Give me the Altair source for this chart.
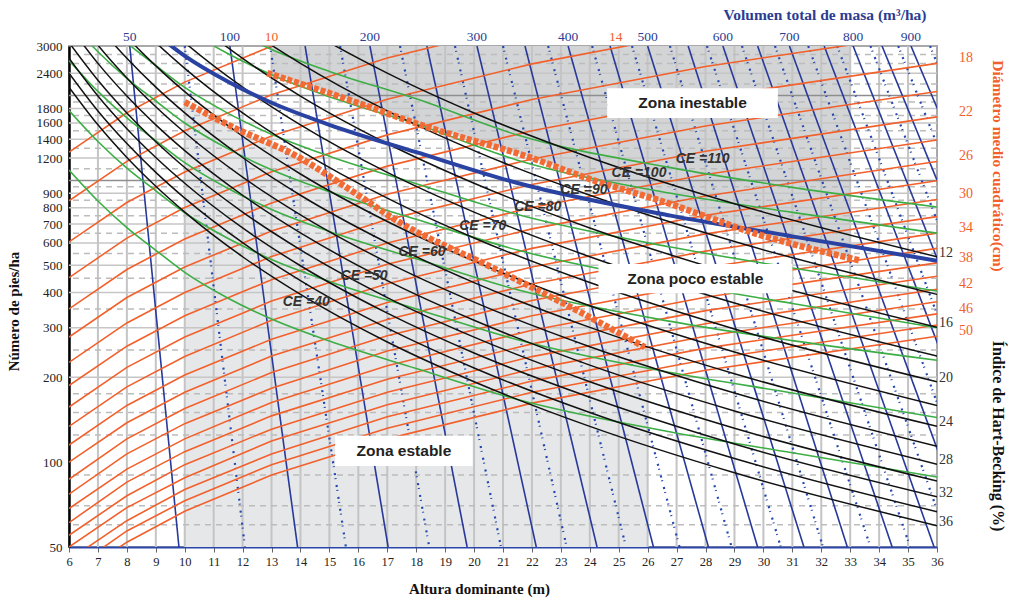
import altair as alt
import pandas as pd

# ---------------- data ----------------
# Blue solid volume isolines: H0 where each line meets N=3000 (top) and N=50 (bottom)
VOL_LABELS = [50, 100, 150, 200, 250, 300, 350, 400, 450, 500, 550, 600, 650, 700, 750, 800, 850, 900]
VOL_TOP_H = [8.1, 11.56, 14.16, 16.4, 18.37, 20.1, 21.76, 23.25, 24.7, 26.0, 27.4, 28.6, 29.8, 30.9, 32.1, 33.1, 34.1, 35.1]
VOL_BOT_H = [9.8, 13.9, 17.03, 19.76, 22.15, 24.25, 26.2, 28.1, 29.8, 31.4, 32.9, 34.45, 35.9, 37.25, 38.7, 39.95, 41.2, 42.4]
VOL_SHOWN = [50, 100, 200, 300, 400, 500, 600, 700, 800, 900]

# Blue dotted intermediate lines
DOT_TOP_H = [10.0, 12.95, 15.37, 17.44, 19.34, 21.0, 22.56, 24.08, 25.46, 26.77, 28.05, 29.26, 30.4, 31.55, 32.55, 33.7, 34.66, 35.76]
DOT_BOT_H = [12.08, 15.57, 18.45, 20.93, 23.2, 25.25, 27.1, 28.9, 30.6, 32.06, 33.7, 35.07, 36.45, 37.8, 39.0, 40.3, 41.5, 42.8]

# Orange quadratic mean diameter lines (cm)
DG_LABELS = [10, 12, 14, 16, 18, 20, 22, 24, 26, 28, 30, 32, 34, 36, 38, 40, 42, 44, 46, 48, 50]
DG_H = [6, 8, 10, 13, 17, 22, 28, 36]
DG_N = [
    [1260, 1739, 2233, 2995, 4046, 5399, 7074, 9374],
    [847, 1169, 1501, 2013, 2720, 3629, 4755, 6302],
    [605, 835, 1072, 1438, 1943, 2592, 3396, 4501],
    [452, 624, 801, 1074, 1451, 1937, 2538, 3363],
    [350, 483, 620, 832, 1124, 1500, 1965, 2604],
    [278, 384, 493, 661, 893, 1191, 1561, 2068],
    [226, 312, 400, 537, 726, 968, 1269, 1681],
    [187, 258, 331, 444, 600, 801, 1050, 1391],
    [157, 217, 278, 373, 504, 673, 881, 1168],
    [134, 185, 237, 319, 430, 574, 752, 997],
    [115, 159, 204, 273, 369, 493, 646, 856],
    [100, 138, 177, 238, 321, 429, 561, 744],
    [87, 121, 155, 208, 281, 375, 491, 650],
    [77, 107, 137, 183, 248, 331, 433, 574],
    [68.5, 94.5, 121, 163, 220, 294, 385, 510],
    [61, 85, 109, 146, 197, 263, 345, 457],
    [55, 76, 98, 131, 177, 237, 310, 411],
    [50, 69, 88, 119, 160, 214, 280, 371],
    [45, 62, 80, 107, 145, 194, 254, 336],
    [41, 57, 73, 98, 132, 177, 231, 307],
    [38, 52, 67, 90, 121, 162, 212, 280],
]
DG_RIGHT_SHOWN = [18, 22, 26, 30, 34, 38, 42, 46, 50]
DG_TOP_LABELS = ["10", "14"]
DG_TOP_H = [13.0, 24.9]

# Black Hart-Becking index lines (%)
HB_LABELS = [12, 14, 16, 18, 20, 22, 24, 26, 28, 30, 32, 34, 36]
HB_H = [6, 7, 8, 9, 10, 12, 14, 17, 20, 24, 29, 36]
HB_N = [
    [19290, 14172, 10851, 8573, 6944, 4823, 3543, 2403, 1736, 1206, 826, 536],
    [14172, 10412, 7972, 6299, 5102, 3543, 2603, 1765, 1276, 886, 607, 394],
    [10851, 7972, 6104, 4823, 3906, 2713, 1993, 1352, 977, 678, 464, 301],
    [8573, 6299, 4823, 3810, 3086, 2143, 1575, 1068, 772, 536, 367, 238],
    [6944, 5102, 3906, 3086, 2500, 1736, 1276, 865, 625, 434, 297, 193],
    [5739, 4217, 3228, 2551, 2066, 1435, 1054, 715, 517, 359, 246, 159],
    [4823, 3543, 2713, 2143, 1736, 1206, 886, 601, 434, 301, 206, 134],
    [4109, 3019, 2311, 1826, 1479, 1027, 755, 512, 370, 257, 176, 114],
    [3543, 2603, 1993, 1575, 1276, 886, 651, 441, 319, 221, 152, 98.4],
    [3086, 2268, 1736, 1372, 1111, 772, 567, 384, 278, 193, 132, 85.7],
    [2713, 1993, 1526, 1206, 977, 678, 498, 338, 244, 170, 116, 75.4],
    [2403, 1765, 1352, 1068, 865, 601, 441, 299, 216, 150, 103, 66.7],
    [2143, 1575, 1206, 953, 772, 536, 394, 267, 193, 134, 91.7, 59.5],
]
HB_SHOWN = [12, 16, 20, 24, 28, 32, 36]

# Green slenderness (CE) lines
CE_GREEN = [40, 50, 60, 70, 80, 100, 110]
CE_H = [6, 7, 8, 9, 10, 11.5, 13, 15, 18, 21.5, 26.8, 31, 36]
CE_N = [
    [1088, 845, 680, 565, 472, 382, 322, 269, 215, 167, 128, 108, 88.6],
    [1770, 1375, 1106, 919, 768, 622, 524, 438, 350, 272, 208, 176, 144],
    [2666, 2070, 1666, 1384, 1156, 936, 789, 659, 527, 409, 316, 270, 230],
    [3686, 2863, 2304, 1914, 1599, 1294, 1091, 911, 728, 566, 434, 366, 300],
    [4929, 3828, 3080, 2559, 2138, 1730, 1459, 1219, 974, 757, 580, 489, 405],
    [8019, 6228, 5012, 4164, 3479, 2815, 2373, 1983, 1585, 1180, 900, 770, 650],
    [9857, 7656, 6161, 5119, 4276, 3461, 2917, 2437, 1948, 1450, 1110, 945, 805],
]

# Thick blue line (CE = 90)
TB_H = [9, 10, 11.5, 13, 15, 18, 21.5, 26.8, 31, 36]
TB_N = [3317, 2766, 2239, 1887, 1576, 1260, 979, 750, 633, 519]

# Thick dashed orange zone limits
UP_H = [12.85, 15.0, 18.5, 21.9, 24.1, 26.4, 29.9, 33.3]
UP_N = [2405, 2040, 1533, 1210, 1003, 850, 640, 521]
LOW_H = [10.0, 11.75, 13.8, 15.9, 17.3, 20.8, 23.5, 25.9]
LOW_N = [1896, 1530, 1230, 900, 723, 481, 348, 256]

# Shaded zones
DARK_H = [13, 15, 18.5, 21.9, 24.1, 26.4, 29.9, 33]
DARK_N = [2380, 2040, 1533, 1210, 1003, 850, 640, 525]
LIGHT_H = [10, 11.75, 13.8, 15.9, 17.3, 20.8, 23.5, 26]
LIGHT_N = [1896, 1530, 1230, 900, 723, 481, 348, 250]

# Zone label boxes
ZONE_TEXT = ["Zona inestable", "Zona poco estable", "Zona estable"]
ZONE_H1 = [24.6, 24.3, 15.2]
ZONE_H2 = [30.5, 31.0, 19.95]
ZONE_N1 = [1665, 398, 97]
ZONE_N2 = [2125, 505, 124]

# CE labels
CE_LAB_TEXT = ["CE =40", "CE =50", "CE =60", "CE =70", "CE =80", "CE =90", "CE =100", "CE =110"]
CE_LAB_H = [14.2, 16.2, 18.2, 20.3, 22.2, 23.8, 25.7, 27.9]
CE_LAB_N = [370, 458, 556, 688, 805, 925, 1061, 1188]

# Axes / grid
X_TICKS = list(range(6, 37))
Y_TICKS = [50, 100, 200, 300, 400, 500, 600, 700, 800, 900, 1000, 1200, 1400, 1600, 1800, 2000, 2400, 3000]
GRID_V = list(range(7, 36))
GRID_SOLID = [200, 300, 400, 500, 600, 700, 800, 900, 1200, 1400, 1600, 1800, 2400]
GRID_DARK = [1000, 2000]
GRID_DASH = [60, 70, 90, 125, 150, 175, 250, 350, 450, 550, 650, 750, 850, 950, 1100, 1300, 1500, 1700, 1900, 2200, 2600, 2800]

# ---------------- styling ----------------
SERIF = "Liberation Serif"
SANS = "Liberation Sans"
ORANGE = "#f2602b"
GREEN = "#3cae45"
NAVY = "#27399a"
BLACK = "#111111"

XS = alt.Scale(domain=[6, 36], nice=False, zero=False)
YS = alt.Scale(type="log", domain=[50, 3000], nice=False)

X_AXIS = alt.Axis(values=X_TICKS, format="d", title="Altura dominante (m)", grid=False,
                  labelFont=SERIF, labelFontSize=12.5, labelColor="#222", labelPadding=3,
                  tickSize=5, tickColor="#666", domainColor="#2b46a8", domainWidth=2,
                  titleFont=SERIF, titleFontSize=15, titleFontWeight="bold", titleColor="#111",
                  titleX=410, titleY=46, titleBaseline="alphabetic", labelFlush=False)
Y_AXIS = alt.Axis(values=Y_TICKS, format="d", title="Número de pies/ha", grid=False,
                  labelFont=SERIF, labelFontSize=13, labelColor="#222", labelPadding=7,
                  ticks=False, domainColor="#000", domainWidth=2.5,
                  titleFont=SERIF, titleFontSize=15, titleFontWeight="bold", titleColor="#111",
                  titleX=-48, titleY=265, titleAngle=270, titleAlign="center", titleBaseline="bottom",
                  labelFlush=False)


def X(field="H"):
    return alt.X(f"{field}:Q", scale=XS, axis=X_AXIS)


def Y(field="N"):
    return alt.Y(f"{field}:Q", scale=YS, axis=Y_AXIS)


def curves(labels, hs, rows, prefix):
    recs = []
    for lab, row in zip(labels, rows):
        for h, n in zip(hs, row):
            recs.append({"H": h, "N": n, "id": f"{prefix}{lab}"})
    return pd.DataFrame(recs)


def straight(labels, top, bot, prefix):
    recs = []
    for lab, t, b in zip(labels, top, bot):
        recs.append({"H": t, "N": 3000, "id": f"{prefix}{lab}"})
        recs.append({"H": b, "N": 50, "id": f"{prefix}{lab}"})
    return pd.DataFrame(recs)


def line_layer(df, color, width, dash=None, interp="linear"):
    kw = dict(color=color, strokeWidth=width, clip=True, interpolate=interp)
    if dash:
        kw["strokeDash"] = dash
    return alt.Chart(df).mark_line(**kw).encode(x=X(), y=Y(), detail="id:N")


layers = []

# shaded zones
dark_df = pd.DataFrame({"H": DARK_H, "N": DARK_N, "N2": [3000] * len(DARK_H)})
light_df = pd.DataFrame({"H": LIGHT_H, "N": LIGHT_N, "N2": [50] * len(LIGHT_H)})
layers.append(alt.Chart(dark_df).mark_area(color="#d3d4d6", clip=True, orient="vertical")
              .encode(x=X(), y=Y(), y2="N2:Q"))
layers.append(alt.Chart(light_df).mark_area(color="#e6e7e9", clip=True, orient="vertical")
              .encode(x=X(), y=Y(), y2="N2:Q"))

# grid
layers.append(alt.Chart(pd.DataFrame({"H": GRID_V})).mark_rule(color="#c4c4c4", strokeWidth=2)
              .encode(x=X()))
layers.append(alt.Chart(pd.DataFrame({"N": GRID_DASH})).mark_rule(color="#bcbcbc", strokeWidth=1.5, strokeDash=[6, 5])
              .encode(y=Y()))
layers.append(alt.Chart(pd.DataFrame({"N": GRID_SOLID})).mark_rule(color="#c6c6c6", strokeWidth=1.5)
              .encode(y=Y()))
layers.append(alt.Chart(pd.DataFrame({"N": GRID_DARK})).mark_rule(color="#8e8e8e", strokeWidth=1.5)
              .encode(y=Y()))

# line families
layers.append(line_layer(straight(DOT_TOP_H, DOT_TOP_H, DOT_BOT_H, "d"), "#2347b0", 2.2, dash=[2, 3, 1, 6]))
layers.append(line_layer(straight(VOL_LABELS, VOL_TOP_H, VOL_BOT_H, "v"), NAVY, 1.6))
layers.append(line_layer(curves(DG_LABELS, DG_H, DG_N, "dg"), ORANGE, 1.6))
layers.append(line_layer(curves(CE_GREEN, CE_H, CE_N, "ce"), GREEN, 1.6, interp="monotone"))
layers.append(line_layer(curves(HB_LABELS, HB_H, HB_N, "hb"), BLACK, 1.5, interp="monotone"))
layers.append(line_layer(pd.DataFrame({"H": TB_H, "N": TB_N, "id": "ce90"}), "#2a42a2", 4, interp="monotone"))
layers.append(line_layer(pd.DataFrame({"H": UP_H, "N": UP_N, "id": "up"}), "#f36b34", 6.5, dash=[5, 2], interp="monotone"))
layers.append(line_layer(pd.DataFrame({"H": LOW_H, "N": LOW_N, "id": "low"}), "#f36b34", 6.5, dash=[5, 2], interp="monotone"))

# zone boxes and texts
zone_df = pd.DataFrame({"H1": ZONE_H1, "H2": ZONE_H2, "N1": ZONE_N1, "N2": ZONE_N2, "t": ZONE_TEXT})
zone_df["Hc"] = (zone_df["H1"] + zone_df["H2"]) / 2
zone_df["Nc"] = (zone_df["N1"] * zone_df["N2"]) ** 0.5
layers.append(alt.Chart(zone_df).mark_rect(color="white")
              .encode(x=X("H1"), x2="H2:Q", y=Y("N1"), y2="N2:Q"))
layers.append(alt.Chart(zone_df).mark_text(font=SANS, fontSize=15.5, fontWeight="bold", color="#222",
                                           align="center", baseline="middle")
              .encode(x=X("Hc"), y=Y("Nc"), text="t:N"))

# CE labels
ce_df = pd.DataFrame({"H": CE_LAB_H, "N": CE_LAB_N, "t": CE_LAB_TEXT})
layers.append(alt.Chart(ce_df).mark_text(font=SANS, fontSize=14, fontWeight="bold", fontStyle="italic",
                                         color="#333", align="center", baseline="middle")
              .encode(x=X(), y=Y(), text="t:N"))

# top labels: volume (blue) and diameter (orange)
vol_df = pd.DataFrame({"H": [VOL_TOP_H[VOL_LABELS.index(v)] for v in VOL_SHOWN],
                       "t": [str(v) for v in VOL_SHOWN]})
layers.append(alt.Chart(vol_df).mark_text(font=SERIF, fontSize=13.5, color="#2b3d91", baseline="middle")
              .encode(x=X(), y=alt.value(-9), text="t:N"))
dgt_df = pd.DataFrame({"H": DG_TOP_H, "t": DG_TOP_LABELS})
layers.append(alt.Chart(dgt_df).mark_text(font=SERIF, fontSize=13.5, color=ORANGE, baseline="middle")
              .encode(x=X(), y=alt.value(-9), text="t:N"))

# right labels: diameter (orange) and Hart-Becking (black)
dgr_df = pd.DataFrame({"N": [DG_N[DG_LABELS.index(d)][-1] for d in DG_RIGHT_SHOWN],
                       "t": [str(d) for d in DG_RIGHT_SHOWN]})
layers.append(alt.Chart(dgr_df).mark_text(font=SERIF, fontSize=14, color=ORANGE, baseline="middle", dy=-5)
              .encode(x=alt.value(897), y=Y(), text="t:N"))
hbr_df = pd.DataFrame({"N": [HB_N[HB_LABELS.index(i)][-1] for i in HB_SHOWN],
                       "t": [str(i) for i in HB_SHOWN]})
layers.append(alt.Chart(hbr_df).mark_text(font=SERIF, fontSize=14, color="#333", align="left",
                                          baseline="middle", dy=-4)
              .encode(x=alt.value(870), y=Y(), text="t:N"))

# side titles
title_df = pd.DataFrame({"t": ["Volumen total de masa (m³/ha)"]})
layers.append(alt.Chart(title_df).mark_text(font=SERIF, fontSize=15.5, fontWeight="bold", color="#2b3d91",
                                            align="center", baseline="middle")
              .encode(x=alt.value(756), y=alt.value(-31), text="t:N"))
rt1_df = pd.DataFrame({"t": ["Diámetro medio cuadrático(cm)"]})
layers.append(alt.Chart(rt1_df).mark_text(font=SERIF, fontSize=15.5, fontWeight="bold", color=ORANGE,
                                          align="center", baseline="middle", angle=90)
              .encode(x=alt.value(929), y=alt.value(120), text="t:N"))
rt2_df = pd.DataFrame({"t": ["Índice de Hart-Becking (%)"]})
layers.append(alt.Chart(rt2_df).mark_text(font=SERIF, fontSize=16, fontWeight="bold", color="#111",
                                          align="center", baseline="middle", angle=90)
              .encode(x=alt.value(929), y=alt.value(390), text="t:N"))

chart = (
    alt.layer(*layers)
    .properties(width=868, height=501,
                padding={"left": 69, "top": 46, "right": 76, "bottom": 51},
                autosize=alt.AutoSizeParams(type="none"))
    .configure_view(stroke="#a9a9a9", strokeWidth=2)
)

chart.save("out.html", embed_options={"renderer": "svg", "actions": False})
